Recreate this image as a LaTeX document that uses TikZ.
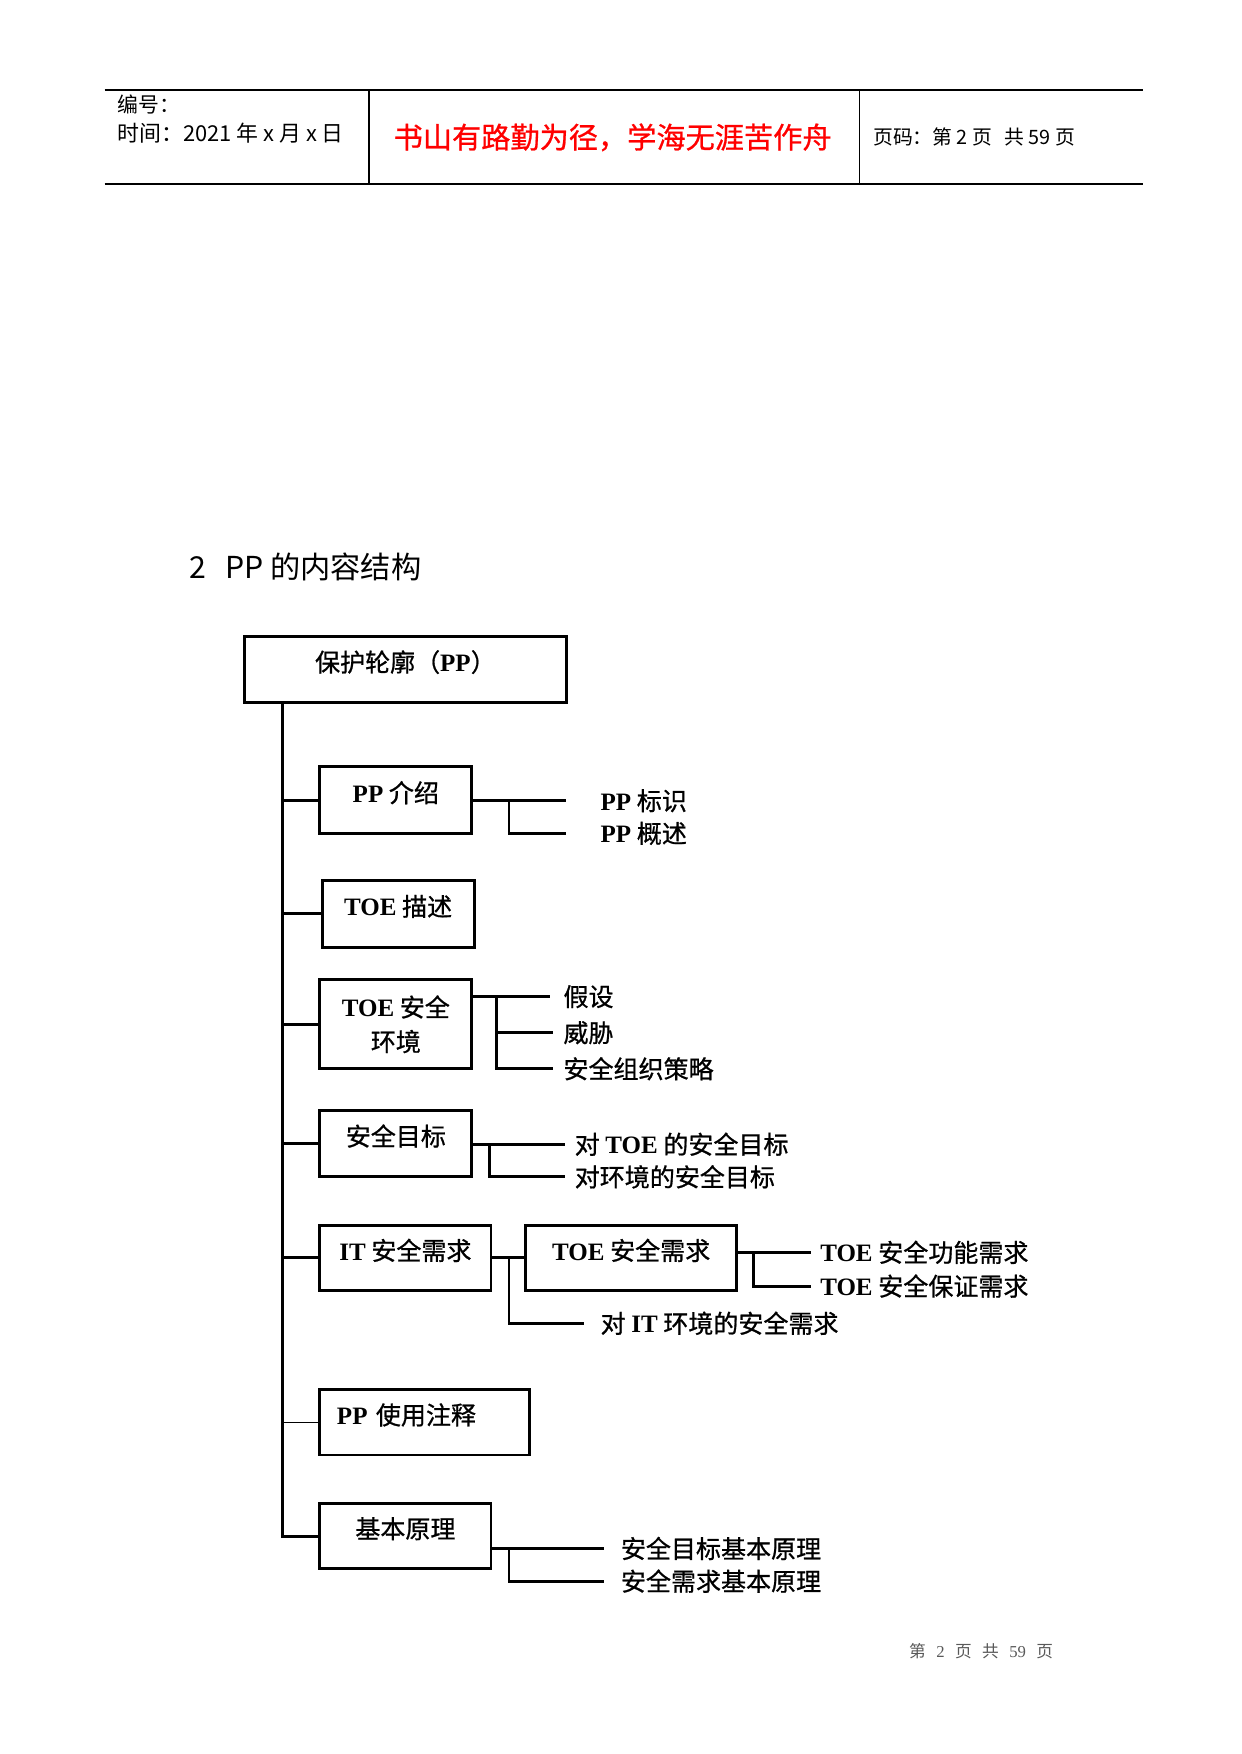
\documentclass[tikz,border=0pt]{standalone}
\usepackage{fontspec}
\setmainfont{Noto Sans CJK SC}
\newfontfamily\cjkd{Noto Sans CJK SC}[FakeBold=0.8]
\newfontfamily\lat{Liberation Serif}
\newcommand\en[1]{{\lat\bfseries #1}}
\newcommand\upx{0.54pt}
\tikzset{
  txt/.style={inner sep=0pt, anchor=west},
  box/.style 2 args={draw, line width=1.4pt, minimum width=#1*\upx, minimum height=#2*\upx, inner sep=0pt, font=\cjkd\fontsize{12}{15}\selectfont},
  onel/.style={text height=9pt, text depth=7pt},
  leaf/.style={anchor=west, inner ysep=0pt, inner xsep=#1*\upx, font=\cjkd\fontsize{12}{15}\selectfont},
  link/.style={line width=1.4pt},
  thinlink/.style={line width=0.8pt},
}
\begin{document}
\begin{tikzpicture}[x=0.54pt,y=-0.54pt]
        \fill[white] (0,0) rectangle (1102,1557.5);
        % intestazione
        \draw[line width=0.9pt] (93,80) -- (1015,80);
        \draw[line width=0.9pt] (93,163) -- (1015,163);
        \draw[line width=1pt] (328,80) -- (328,163);
        \draw[line width=0.5pt] (763,80) -- (763,163);
        \node[txt, font=\fontsize{10}{12}\selectfont] (code) at (104,93) {编号：};
        \node[txt, font=\fontsize{10.5}{12}\selectfont] (date) at (104,118) {时间：2021 年 x 月 x 日};
        \node[font=\cjkd\fontsize{14}{16}\selectfont, text=red] (motto) at (544,122) {书山有路勤为径，学海无涯苦作舟};
        \node[txt, font=\fontsize{9.5}{11}\selectfont] (pg) at (775,122) {页码：第 2 页\hspace{6pt}共 59 页};
        % titolo
        \node[txt, font=\fontsize{14.5}{17}\selectfont] (title) at (168,503) {2\hspace{9pt}PP 的内容结构};
        % riquadri
        \node[box={286}{59}, onel] (root) at (360,594.5) {保护轮廓（\en{PP}）};
        \node[box={135}{59}, onel] (intro) at (351.5,710.5) {\en{PP} 介绍};
        \node[box={135}{59}, onel] (toed) at (353.5,811.5) {\en{TOE} 描述};
        \node[box={135}{79}, align=center] (env) at (351.5,909.5) {\en{TOE} 安全\\[1.5pt]环境};
        \node[box={135}{59}, onel] (obj) at (351.5,1015.5) {安全目标};
        \node[box={152}{58}, onel] (itreq) at (360,1117) {\en{IT} 安全需求};
        \node[box={187}{58}, onel] (toereq) at (560.5,1117) {\en{TOE} 安全需求};
        \node[box={186}{58}, onel, text width=84pt, align=left] (note) at (377,1263) {\en{PP} 使用注释};
        \node[box={152}{58}, onel] (rat) at (360,1364) {基本原理};
        % tronco
        \coordinate (sp) at (251,624);
        \draw[link] (sp) -- (sp |- rat.west) -- (rat.west);
        \foreach \b in {intro,toed,env,obj,itreq}
          \draw[link] (sp |- \b.west) -- (\b.west);
        \draw[thinlink] (sp |- note.west) -- (note.west);
        % PP introduzione
        \node[leaf=30] (ppid) at (503,711) {\en{PP} 标识};
        \node[leaf=30] (ppov) at (503,740) {\en{PP} 概述};
        \coordinate (f1) at (452,711);
        \draw[link] (intro.east |- ppid.west) -- (ppid.west);
        \draw[link] (f1) |- (ppov.west);
        % ambiente TOE
        \node[leaf=12] (assum) at (488,885) {假设};
        \node[leaf=9] (threat) at (491,917) {威胁};
        \node[leaf=9] (policy) at (491,949) {安全组织策略};
        \coordinate (f2) at (441,885);
        \draw[link] (env.east |- assum.west) -- (assum.west);
        \draw[link] (f2) |- (threat.west);
        \draw[link] (f2) |- (policy.west);
        % obiettivi
        \node[leaf=8] (obtoe) at (502,1016) {对 \en{TOE} 的安全目标};
        \node[leaf=8] (obenv) at (502,1045) {对环境的安全目标};
        \coordinate (f3) at (435,1016);
        \draw[link] (obj.east |- obtoe.west) -- (obtoe.west);
        \draw[link] (f3) |- (obenv.west);
        % requisiti
        \node[leaf=14] (itenv) at (519,1175) {对 \en{IT} 环境的安全需求};
        \node[leaf=8] (fn) at (720,1112) {\en{TOE} 安全功能需求};
        \node[leaf=8] (asr) at (720,1142) {\en{TOE} 安全保证需求};
        \coordinate (f4) at (452,1117);
        \coordinate (f5) at (669,1112);
        \draw[link] (itreq.east) -- (toereq.west);
        \draw[link] (f4) |- (itenv.west);
        \draw[link] (toereq.east |- fn.west) -- (fn.west);
        \draw[link] (f5) |- (asr.west);
        % razionale
        \node[leaf=15] (gr) at (536,1375) {安全目标基本原理};
        \node[leaf=15] (rr) at (536,1404) {安全需求基本原理};
        \coordinate (f6) at (452,1375);
        \draw[link] (rat.east |- gr.west) -- (gr.west);
        \draw[link] (f6) |- (rr.west);
        % pie' di pagina
        \node[txt, font=\fontsize{8}{10}\selectfont, text=black!65] (foot) at (807,1466) {第\hspace{5pt}{\lat 2}\hspace{5pt}页\hspace{5pt}共\hspace{5pt}{\lat 59}\hspace{5pt}页};
\end{tikzpicture}
\end{document}
